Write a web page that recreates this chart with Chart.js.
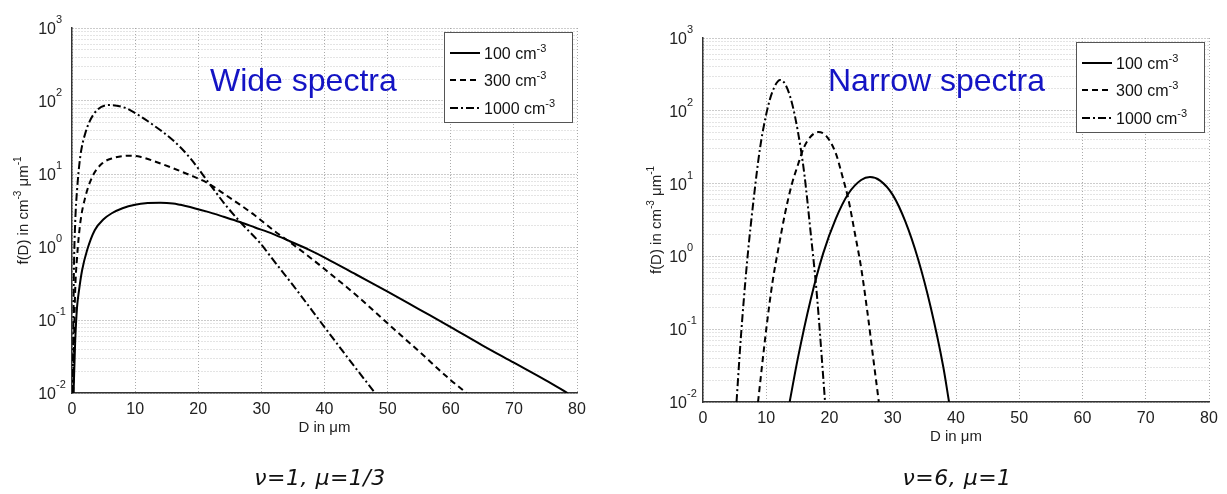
<!DOCTYPE html>
<html>
<head>
<meta charset="utf-8">
<script src="https://cdn.jsdelivr.net/npm/chart.js@4.4.1/dist/chart.umd.min.js"></script>
<style>
    body { margin: 0; background: #fff; width: 1227px; height: 494px; position: relative; overflow: hidden; }
    canvas { position: absolute; left: 0; top: 0; }
    .caption { position: absolute; top: 467px; font: italic 22px "DejaVu Sans", sans-serif; letter-spacing: 0.5px; color: #111; line-height: 1; white-space: nowrap; transform: translateX(-50%); }
</style>
</head>
<body>
<canvas id="wideChart" width="1227" height="494"></canvas>
<canvas id="narrowChart" width="1227" height="494"></canvas>
<div class="caption" style="left:320px">ν=1, μ=1/3</div>
<div class="caption" style="left:957px">ν=6, μ=1</div>
<script>
// legend labels (concentrations)
const seriesNames = ['100', '300', '1000'];

// axes
const xMin = 0, xMax = 80, xStep = 10;
const yDecades = [0.01, 0.1, 1, 10, 100, 1000];
const yMinorSteps = [2, 3, 4, 5, 6, 7, 8, 9];

// wide spectra (v=1, mu=1/3), D in um / f(D)
const wideD100 = [0.25, 0.5, 0.8, 1.1, 1.6, 2.4, 3.6, 5, 6.3, 8, 10, 12, 14, 16, 18, 21.4, 24, 26.6, 29, 31.9, 34.5, 37.5, 40.4, 45, 50, 55, 60, 65, 70, 75, 78.5];
const wideF100 = [0.01, 0.05, 0.15, 0.25, 0.48, 0.91, 1.7, 2.4, 2.9, 3.4, 3.8, 4.0, 4.05, 3.95, 3.65, 3.05, 2.6, 2.2, 1.85, 1.5, 1.2, 0.92, 0.69, 0.42, 0.245, 0.14, 0.08, 0.045, 0.026, 0.015, 0.01];
const wideD300 = [0.2, 0.35, 0.5, 0.8, 1.3, 2.1, 3.2, 4.8, 6.5, 9, 10.8, 13, 16, 18.5, 21.4, 24, 26.6, 29, 31.9, 34.5, 37.7, 40, 45, 50, 55, 60, 62.5];
const wideF300 = [0.01, 0.07, 0.25, 0.72, 2.1, 4.8, 9.1, 14, 16.5, 17.8, 17.2, 15, 12, 9.8, 7.6, 5.4, 3.8, 2.7, 1.7, 1.17, 0.72, 0.5, 0.22, 0.09, 0.037, 0.015, 0.01];
const wideD1000 = [0.1, 0.2, 0.3, 0.5, 0.8, 1.3, 2.1, 3.6, 6, 8.5, 10.8, 12.7, 16, 18.7, 21.9, 24.5, 27.1, 29.8, 31.9, 35, 40, 44, 48];
const wideF1000 = [0.01, 0.06, 0.45, 2.1, 6, 17, 36, 69, 88, 80, 62, 48, 29, 16.6, 7.1, 3.6, 2.0, 1.13, 0.66, 0.3, 0.08, 0.028, 0.01];

// narrow spectra (v=6, mu=1)
const narrowD100 = [13.7, 15, 17, 19, 21, 23, 25, 26.4, 28, 30, 32, 34, 36, 38, 38.9];
const narrowF100 = [0.01, 0.04, 0.25, 1.1, 3.3, 7.3, 11.2, 12.3, 11, 7, 3, 0.92, 0.2, 0.03, 0.01];
const narrowD300 = [8.7, 10, 11, 12, 13, 14, 15, 16, 17, 18.2, 19.5, 21, 22, 23, 24, 25, 26, 27, 27.8];
const narrowF300 = [0.01, 0.1, 0.45, 1.4, 4, 9.5, 18, 32, 44, 51, 45, 26, 13, 6, 2.1, 0.7, 0.17, 0.035, 0.01];
const narrowD1000 = [5.3, 6, 7, 8, 9, 10, 11, 12.2, 13, 14, 15, 16, 17, 18, 19.3];
const narrowF1000 = [0.01, 0.08, 0.9, 6, 30, 90, 185, 265, 232, 134, 52, 14, 2.2, 0.3, 0.01];

const FONT = '"Liberation Sans", Arial, Helvetica, sans-serif';
const dashes = [[], [6, 4], [8, 3, 2, 3]];

// y grid at every decade and its minor steps
const yGrid = [];
yDecades.forEach((d, i) => {
    yGrid.push(d);
    if (i < yDecades.length - 1) yMinorSteps.forEach(m => yGrid.push(d * m));
});

function toPoints(xs, ys) {
    return xs.map((x, i) => ({ x: x, y: ys[i] }));
}

// draws text with superscript parts, returns width
function drawRich(ctx, parts, x, y, size, dry) {
    let cx = x;
    parts.forEach(p => {
        ctx.font = (p.sup ? Math.round(size * 0.68) : size) + 'px ' + FONT;
        if (!dry) ctx.fillText(p.t, cx, p.sup ? y - size * 0.45 : y);
        cx += ctx.measureText(p.t).width;
    });
    return cx - x;
}

const decor = {
    id: 'decor',
    afterDraw(chart, args, o) {
        const { ctx, chartArea: a, scales: { y } } = chart;
        ctx.save();
        ctx.fillStyle = '#222';
        ctx.textBaseline = 'alphabetic';

        // y tick labels 10^n
        yDecades.forEach(v => {
            const py = y.getPixelForValue(v);
            const e = Math.round(Math.log10(v));
            ctx.font = '16px ' + FONT;
            ctx.textAlign = 'right';
            ctx.fillText('10', a.left - 16, py + 6);
            ctx.font = '11px ' + FONT;
            ctx.textAlign = 'left';
            ctx.fillText(String(e), a.left - 16, py - 5);
        });

        // y title (rotated)
        ctx.textAlign = 'left';
        const yParts = [{ t: 'f(D) in cm' }, { t: '-3', sup: true }, { t: ' μm' }, { t: '-1', sup: true }];
        ctx.save();
        ctx.translate(o.yTitleX, (a.top + a.bottom) / 2);
        ctx.rotate(-Math.PI / 2);
        const w = drawRich(ctx, yParts, 0, 0, 15, true);
        drawRich(ctx, yParts, -w / 2, 5, 15);
        ctx.restore();

        // x title
        ctx.font = '15px ' + FONT;
        ctx.textAlign = 'center';
        ctx.textBaseline = 'middle';
        ctx.fillText('D in μm', (a.left + a.right) / 2, a.bottom + 35);

        // blue title
        ctx.textAlign = 'left';
        ctx.textBaseline = 'alphabetic';
        ctx.fillStyle = '#1414c4';
        ctx.font = '32px ' + FONT;
        ctx.fillText(o.title, a.left + o.titleDx, a.top + o.titleDy);

        // legend box
        const bw = 128, bh = 90;
        const bx = a.right - 5 - bw, by = a.top + 4;
        ctx.fillStyle = '#fff';
        ctx.fillRect(bx, by, bw, bh);
        ctx.strokeStyle = '#555';
        ctx.lineWidth = 1;
        ctx.strokeRect(bx + 0.5, by + 0.5, bw, bh);
        [21, 48, 76].forEach((dy, i) => {
            const ly = by + dy;
            ctx.strokeStyle = '#000';
            ctx.lineWidth = 2;
            ctx.setLineDash(dashes[i]);
            ctx.beginPath();
            ctx.moveTo(bx + 6, ly);
            ctx.lineTo(bx + 36, ly);
            ctx.stroke();
            ctx.setLineDash([]);
            ctx.fillStyle = '#111';
            drawRich(ctx, [{ t: seriesNames[i] + ' cm' }, { t: '-3', sup: true }], bx + 40, ly + 6, 16);
        });
        ctx.restore();
    }
};

function makeChart(id, sets, cfg) {
    return new Chart(document.getElementById(id), {
        type: 'line',
        data: {
            datasets: sets.map((pts, i) => ({
                label: seriesNames[i],
                data: pts,
                borderColor: '#000',
                borderWidth: 2,
                borderDash: dashes[i],
                pointRadius: 0,
                fill: false,
                cubicInterpolationMode: 'monotone'
            }))
        },
        options: {
            responsive: false,
            animation: false,
            layout: { padding: cfg.pad },
            plugins: {
                legend: { display: false },
                tooltip: { enabled: false },
                decor: cfg.decor
            },
            scales: {
                x: {
                    type: 'linear',
                    min: xMin,
                    max: xMax,
                    ticks: { stepSize: xStep, padding: 7, color: '#222', font: { family: FONT, size: 16 } },
                    grid: { color: '#aaa', drawTicks: false },
                    border: { color: '#333', width: 1.5, dash: [1, 2] },
                    afterFit: s => { s.height = 30; }
                },
                y: {
                    type: 'logarithmic',
                    min: yDecades[0],
                    max: yDecades[yDecades.length - 1],
                    ticks: { display: false },
                    afterBuildTicks: s => { s.ticks = yGrid.map(v => ({ value: v })); },
                    grid: {
                        drawTicks: false,
                        color: c => (c.tick && yDecades.includes(c.tick.value)) ? '#999' : '#c8c8c8'
                    },
                    border: { color: '#333', width: 1.5, dash: [1, 2] },
                    afterFit: s => { s.width = cfg.yW; }
                }
            }
        },
        plugins: [decor]
    });
}

makeChart('wideChart',
    [toPoints(wideD100, wideF100), toPoints(wideD300, wideF300), toPoints(wideD1000, wideF1000)],
    {
        pad: { left: 0, top: 28, right: 650, bottom: 71 },
        yW: 72,
        decor: { title: 'Wide spectra', titleDx: 138, titleDy: 63, yTitleX: 23 }
    });

makeChart('narrowChart',
    [toPoints(narrowD100, narrowF100), toPoints(narrowD300, narrowF300), toPoints(narrowD1000, narrowF1000)],
    {
        pad: { left: 600, top: 38, right: 18, bottom: 62 },
        yW: 103,
        decor: { title: 'Narrow spectra', titleDx: 125, titleDy: 53, yTitleX: 656 }
    });
</script>
</body>
</html>
